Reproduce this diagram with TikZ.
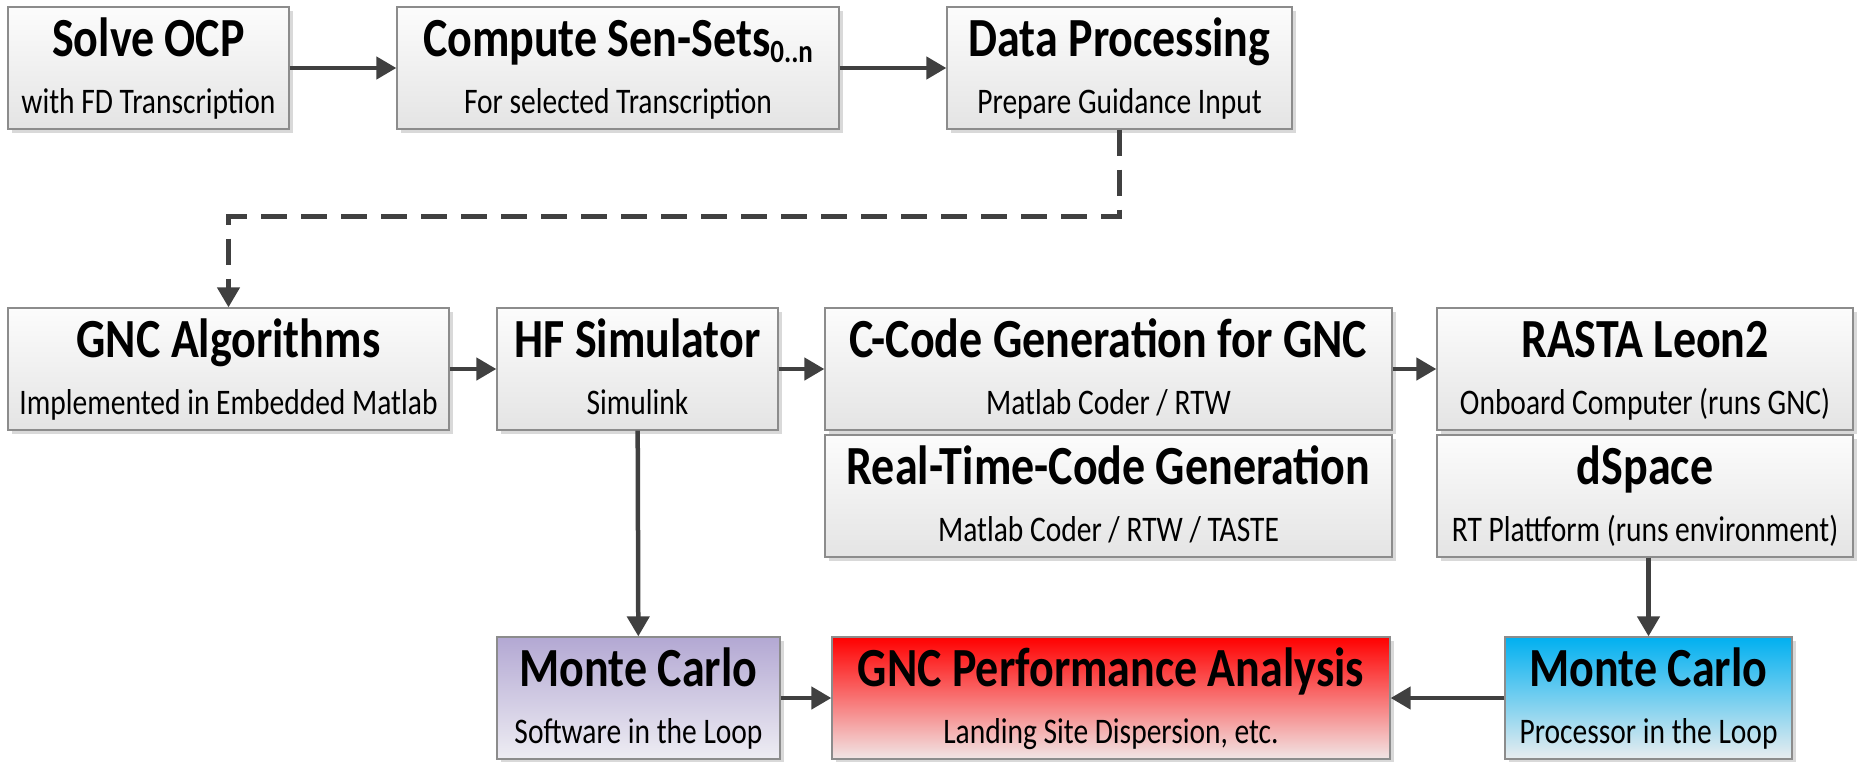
\documentclass[tikz,border=0pt]{standalone}
\usepackage{fontspec}
\usepackage{graphicx}
\setmainfont{Carlito}
\usetikzlibrary{arrows.meta,shadows,calc}
\definecolor{arr}{HTML}{404040}
\definecolor{bord}{HTML}{8C8C8C}
\definecolor{gtop}{HTML}{FCFCFC}
\definecolor{gbot}{HTML}{E4E4E4}
\definecolor{siltop}{HTML}{B3A8D3}
\definecolor{silbot}{HTML}{EEEDF3}
\definecolor{perftop}{HTML}{FF0000}
\definecolor{perfbot}{HTML}{F1E6E6}
\definecolor{piltop}{HTML}{00B0F0}
\definecolor{pilbot}{HTML}{E9EDEF}
\newcommand\boxtitle[1]{\scalebox{1}[1.2]{\fontsize{46}{48}\selectfont\bfseries #1}}
\newcommand\boxsub[1]{\scalebox{1}[1.22]{\fontsize{29.5}{31}\selectfont #1}}
\tikzset{
  box/.style={rectangle, draw=bord, line width=1.3pt, inner sep=0pt,
    top color=gtop, bottom color=gbot,
    drop shadow={shadow xshift=4pt, shadow yshift=-4pt, fill=black!15, opacity=1}},
  ttl/.style={anchor=base, inner sep=0pt},
  sub/.style={anchor=base, inner sep=0pt},
  conn/.style={draw=arr, line width=4.5pt, -{Triangle[length=20pt,width=22pt]}},
  dconn/.style={conn, dash pattern=on 26pt off 14pt},
}
\begin{document}
\begin{tikzpicture}[x=1pt,y=-1pt]
\useasboundingbox (0,0) rectangle (1859,761);
% row 1
\node[box, minimum width=281pt, minimum height=122pt] (solve) at (148.5,68) {};
\node[box, minimum width=442pt, minimum height=122pt] (compute) at (618,68) {};
\node[box, minimum width=345pt, minimum height=122pt] (data) at (1119.5,68) {};
% row 2
\node[box, minimum width=441pt, minimum height=122pt] (gnc) at (228.5,369) {};
\node[box, minimum width=281pt, minimum height=122pt] (hf) at (637.5,369) {};
\node[box, minimum width=567pt, minimum height=122pt] (ccode) at (1108.5,369) {};
\node[box, minimum width=416pt, minimum height=122pt] (rasta) at (1645,369) {};
% row 3
\node[box, minimum width=567pt, minimum height=122pt] (rtcode) at (1108.5,496) {};
\node[box, minimum width=416pt, minimum height=122pt] (dspace) at (1645,496) {};
% row 4
\node[box, minimum width=283pt, minimum height=122pt, top color=siltop, bottom color=silbot] (sil) at (638.5,698) {};
\node[box, minimum width=558pt, minimum height=122pt, top color=perftop, bottom color=perfbot] (perf) at (1111,698) {};
\node[box, minimum width=287pt, minimum height=122pt, top color=piltop, bottom color=pilbot] (pil) at (1648.5,698) {};
% texts
\foreach \n/\t/\s in {solve/Solve OCP/with FD Transcription,
  data/Data Processing/Prepare Guidance Input,
  gnc/GNC Algorithms/Implemented in Embedded Matlab,
  hf/HF Simulator/Simulink,
  ccode/C-Code Generation for GNC/{Matlab Coder / RTW},
  rasta/RASTA Leon2/Onboard Computer (runs GNC),
  rtcode/Real-Time-Code Generation/{Matlab Coder / RTW / TASTE},
  dspace/dSpace/RT Plattform (runs environment),
  sil/Monte Carlo/Software in the Loop,
  perf/GNC Performance Analysis/{Landing Site Dispersion, etc.},
  pil/Monte Carlo/Processor in the Loop}{
  \node[ttl] (\n-t) at ($(\n.north)+(0,50)$) {\boxtitle{\t}};
  \node[sub] (\n-s) at ($(\n.north)+(0,107)$) {\boxsub{\s}};
}
\node[ttl] (compute-t) at ($(compute.north)+(0,50)$) {\boxtitle{Compute Sen-Sets\raisebox{-5pt}{\fontsize{27}{27}\selectfont 0..n}}};
\node[sub] (compute-s) at ($(compute.north)+(0,107)$) {\boxsub{For selected Transcription}};
% connectors
\draw[conn] (solve) -- (compute);
\draw[conn] (compute) -- (data);
\draw[dconn] (data.south) -- ++(0,87) -| (gnc.north);
\draw[conn] (gnc) -- (hf);
\draw[conn] (hf) -- (ccode);
\draw[conn] (ccode) -- (rasta);
\draw[conn] (hf) -- (sil);
\draw[conn] (dspace.south -| pil.north) -- (pil.north);
\draw[conn] (sil) -- (perf);
\draw[conn] (pil) -- (perf);
\end{tikzpicture}
\end{document}
